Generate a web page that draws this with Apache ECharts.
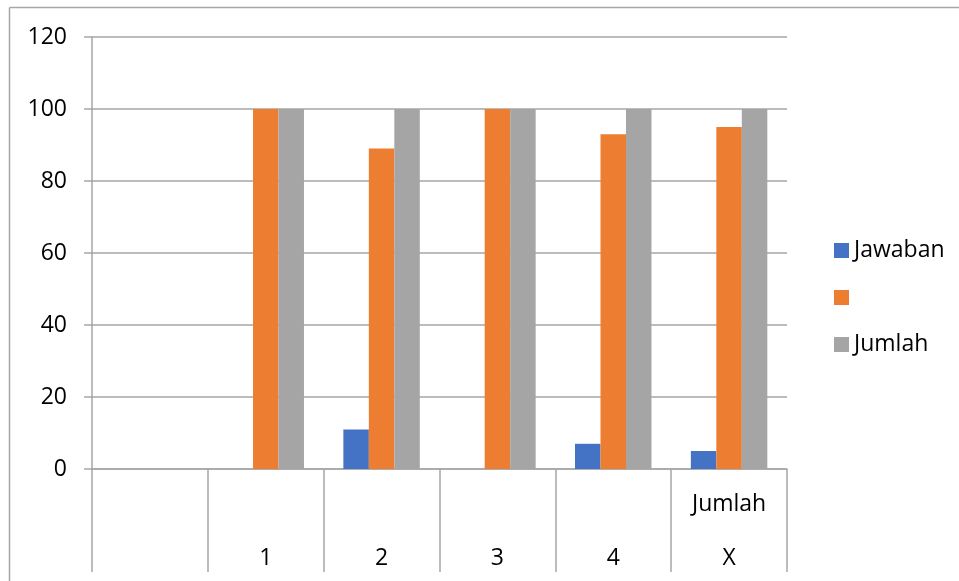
<!DOCTYPE html>
<html>
<head>
<meta charset="utf-8">
<script src="https://cdn.jsdelivr.net/npm/echarts@6/dist/echarts.min.js"></script>
<style>
  html, body { margin: 0; padding: 0; background: #fff; }
  #chart { width: 959px; height: 581px; }
</style>
</head>
<body>
<div id="chart"></div>
<script>
// Two-level category axis: lower row and upper row labels
const lowerLabels = ['', '1', '2', '3', '4', 'X'];
const upperLabels = ['', '', '', '', '', 'Jumlah'];

const seriesNames = ['Jawaban', ' ', 'Jumlah'];
const jawaban = [0, 0, 11, 0, 7, 5];
const kedua = [0, 100, 89, 100, 93, 95];
const jumlah = [0, 100, 100, 100, 100, 100];

const yTicks = { min: 0, max: 120, interval: 20 };

const colors = ['#4472C4', '#ED7D31', '#A5A5A5'];
const lineGray = '#a6a6a6';
const font = '"Open Sans", "Noto Sans", sans-serif';
const fontSize = 23;

const categories = lowerLabels.map((v, i) => i);

const chart = echarts.init(document.getElementById('chart'));
chart.setOption({
  animation: false,
  backgroundColor: '#fff',
  color: colors,
  grid: { left: 92, right: 172, top: 37, bottom: 112 },
  graphic: [
    { type: 'line', shape: { x1: 9.5, y1: 7.5, x2: 959, y2: 7.5 }, style: { stroke: lineGray, lineWidth: 1.5 } },
    { type: 'line', shape: { x1: 9.5, y1: 7.5, x2: 9.5, y2: 581 }, style: { stroke: lineGray, lineWidth: 1.5 } }
  ],
  legend: {
    orient: 'vertical',
    left: 829,
    top: 234,
    itemWidth: 15,
    itemHeight: 15,
    itemGap: 24,
    itemTextGap: 6,
    icon: 'rect',
    textStyle: { fontFamily: font, fontSize: fontSize, color: '#000' },
    data: seriesNames
  },
  xAxis: {
    type: 'category',
    data: categories,
    boundaryGap: true,
    axisLine: { show: true, lineStyle: { color: lineGray, width: 1.5 } },
    axisTick: { show: true, interval: 0, length: 103, lineStyle: { color: lineGray, width: 1.5 } },
    axisLabel: {
      interval: 0,
      margin: 22,
      verticalAlign: 'top',
      lineHeight: 27,
      fontFamily: font,
      fontSize: fontSize,
      color: '#000',
      formatter: (v) => upperLabels[v] + '\n\n' + lowerLabels[v]
    },
    splitLine: { show: false }
  },
  yAxis: {
    type: 'value',
    min: yTicks.min,
    max: yTicks.max,
    interval: yTicks.interval,
    axisLine: { show: true, lineStyle: { color: lineGray, width: 1.5 } },
    axisTick: { show: true, length: 8, lineStyle: { color: lineGray, width: 1.5 } },
    axisLabel: { margin: 25, fontFamily: font, fontSize: fontSize, color: '#000' },
    splitLine: { show: true, lineStyle: { color: lineGray, width: 1.5 } }
  },
  series: [
    { name: seriesNames[0], type: 'bar', data: jawaban, barGap: '0%', barCategoryGap: '34%' },
    { name: seriesNames[1], type: 'bar', data: kedua, barGap: '0%', barCategoryGap: '34%' },
    { name: seriesNames[2], type: 'bar', data: jumlah, barGap: '0%', barCategoryGap: '34%' }
  ]
});
</script>
</body>
</html>
